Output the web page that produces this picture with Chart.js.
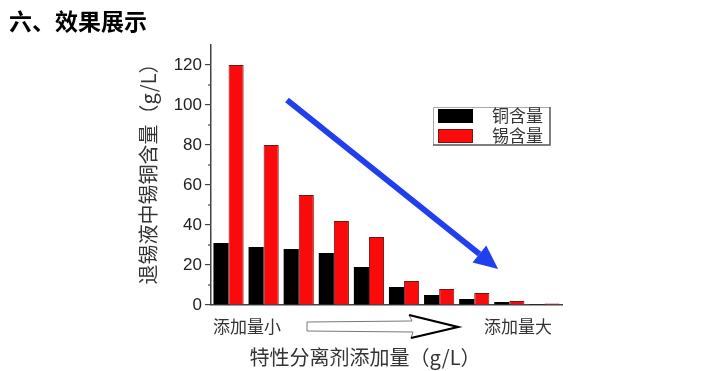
<!DOCTYPE html>
<html>
<head>
<meta charset="utf-8">
<script src="https://cdn.jsdelivr.net/npm/chart.js@4/dist/chart.umd.min.js"></script>
<style>
  body { margin: 0; background: #fff; }
  #wrap { width: 701px; height: 371px; }
</style>
</head>
<body>
<div id="wrap"><canvas id="barChart" width="701" height="371"></canvas></div>
<script>
const ctx_bar = document.querySelector('#barChart').getContext('2d');

// 10 levels of separating agent, from small to large
const categories = ['1', '2', '3', '4', '5', '6', '7', '8', '9', '10'];
const copper = [31, 29, 28, 26, 19, 9, 5, 3, 1.5, 0.5];
const tin = [120, 80, 55, 42, 34, 12, 8, 6, 2, 0.7];
const seriesNames = ['铜含量', '锡含量'];
const yTicks = [0, 20, 40, 60, 80, 100, 120];
const yMinor = [10, 30, 50, 70, 90, 110];

const cjk = '"Noto Sans CJK SC", sans-serif';

// extra drawing: title, legend box, arrows, axis titles, minor ticks
const extras = {
    id: 'extras',
    afterDraw(chart) {
        const c = chart.ctx;
        const area = chart.chartArea;
        const xs = chart.scales.x;
        const ys = chart.scales.y;
        c.save();

        // page title
        c.fillStyle = '#000';
        c.font = 'bold 23px ' + cjk;
        c.textBaseline = 'middle';
        c.textAlign = 'left';
        c.fillText('六、效果展示', 9, 21);

        // minor ticks on y axis
        c.strokeStyle = '#444';
        c.lineWidth = 1.2;
        yMinor.forEach(v => {
            const y = ys.getPixelForValue(v);
            c.beginPath();
            c.moveTo(area.left - 3, y);
            c.lineTo(area.left, y);
            c.stroke();
        });

        // y title (rotated)
        c.save();
        c.translate(148, 169);
        c.rotate(-Math.PI / 2);
        c.fillStyle = '#333';
        c.font = '20px ' + cjk;
        c.textAlign = 'center';
        c.textBaseline = 'middle';
        c.fillText('退锡液中锡铜含量（g/L）', 0, 0);
        c.restore();

        // x title
        c.fillStyle = '#333';
        c.font = '20px ' + cjk;
        c.textAlign = 'center';
        c.fillText('特性分离剂添加量（g/L）', 365, 357);

        // small / large labels
        c.font = '17px ' + cjk;
        c.textAlign = 'left';
        c.fillText('添加量小', 213, 327);
        c.fillText('添加量大', 484, 327);

        // hollow arrow between them
        c.beginPath();
        c.moveTo(307, 322);
        c.lineTo(412, 321);
        c.lineTo(409, 315);
        c.lineTo(458, 327);
        c.lineTo(411, 338);
        c.lineTo(413, 332);
        c.lineTo(307, 331);
        c.closePath();
        c.strokeStyle = '#777';
        c.lineWidth = 1;
        c.stroke();
        c.beginPath();
        c.moveTo(409, 315);
        c.lineTo(458, 327);
        c.lineTo(411, 338);
        c.strokeStyle = '#000';
        c.lineWidth = 2.2;
        c.stroke();

        // blue trend arrow
        const x0 = xs.getPixelForValue(1.665), y0 = ys.getPixelForValue(102.5);
        const x1 = xs.getPixelForValue(7.68), y1 = ys.getPixelForValue(18);
        const ang = Math.atan2(y1 - y0, x1 - x0);
        const headLen = 24, headW = 11;
        const bx = x1 - headLen * Math.cos(ang), by = y1 - headLen * Math.sin(ang);
        c.strokeStyle = 'rgb(32,64,238)';
        c.fillStyle = 'rgb(32,64,238)';
        c.lineWidth = 6;
        c.beginPath();
        c.moveTo(x0, y0);
        c.lineTo(bx, by);
        c.stroke();
        c.beginPath();
        c.moveTo(x1, y1);
        c.lineTo(bx + headW * Math.sin(ang), by - headW * Math.cos(ang));
        c.lineTo(bx - headW * Math.sin(ang), by + headW * Math.cos(ang));
        c.closePath();
        c.fill();

        // legend box
        const lx = 433, ly = 107, lw = 117, lh = 38;
        c.fillStyle = '#fff';
        c.fillRect(lx, ly, lw, lh);
        c.lineWidth = 1;
        c.strokeStyle = '#aaa';
        c.beginPath();
        c.moveTo(lx + 0.5, ly + lh);
        c.lineTo(lx + 0.5, ly + 0.5);
        c.lineTo(lx + lw, ly + 0.5);
        c.stroke();
        c.strokeStyle = '#555';
        c.lineWidth = 1.5;
        c.beginPath();
        c.moveTo(lx + lw, ly);
        c.lineTo(lx + lw, ly + lh);
        c.lineTo(lx, ly + lh);
        c.stroke();
        chart.data.datasets.forEach((ds, i) => {
            const sy = ly + 2 + i * 20;
            c.fillStyle = ds.backgroundColor;
            c.fillRect(lx + 5, sy, 35, 14);
            if (ds.borderWidth) {
                c.strokeStyle = ds.borderColor;
                c.lineWidth = 1;
                c.strokeRect(lx + 5.5, sy + 0.5, 34, 13);
            }
            c.fillStyle = '#333';
            c.font = '17px ' + cjk;
            c.textAlign = 'left';
            c.textBaseline = 'middle';
            c.fillText(ds.label, lx + 59, sy + 7);
        });

        c.restore();
    }
};

const data_bar = {
    labels: categories,
    datasets: [
        {
            label: seriesNames[0],
            data: copper,
            backgroundColor: '#000000',
            borderWidth: 0,
        },
        {
            label: seriesNames[1],
            data: tin,
            backgroundColor: 'rgb(250,10,10)',
            borderColor: 'rgb(120,20,20)',
            borderWidth: 1,
        },
    ],
};

const config_bar = {
    type: 'bar',
    data: data_bar,
    options: {
        responsive: false,
        animation: false,
        layout: {
            padding: { top: 45, right: 139, left: 0, bottom: 0 }
        },
        datasets: {
            bar: {
                categoryPercentage: 0.86,
                barPercentage: 1.0,
            }
        },
        plugins: {
            legend: { display: false },
            tooltip: { enabled: false },
        },
        scales: {
            x: {
                grid: { display: false },
                border: { display: true, color: '#444', width: 1.5 },
                ticks: { display: false },
                afterFit: (scale) => { scale.height = 66; },
            },
            y: {
                min: 0,
                max: 130,
                afterBuildTicks: (scale) => {
                    scale.ticks = yTicks.map(v => ({ value: v }));
                },
                grid: {
                    drawOnChartArea: false,
                    drawTicks: true,
                    tickLength: 6,
                    tickColor: '#444',
                    lineWidth: 1.2,
                },
                border: { display: true, color: '#444', width: 1.5 },
                ticks: {
                    padding: 3,
                    color: '#222',
                    font: { family: 'Liberation Sans, Arial', size: 17 },
                },
                afterFit: (scale) => { scale.width = 211; },
            },
        },
    },
    plugins: [extras],
};

new Chart(ctx_bar, config_bar);
</script>
</body>
</html>
